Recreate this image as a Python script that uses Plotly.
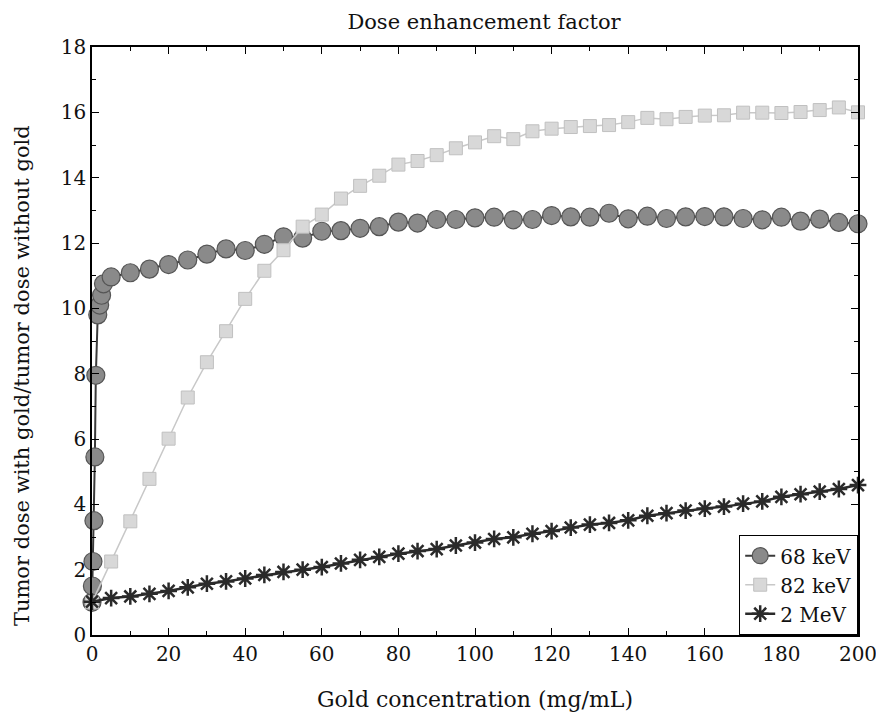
import plotly.graph_objects as go

# ---- data ----
x_68 = [0, 0.1, 0.25, 0.5, 0.75, 1, 1.5, 2, 2.5, 3,
        5, 10, 15, 20, 25, 30, 35, 40, 45, 50, 55, 60, 65, 70, 75, 80, 85, 90, 95,
        100, 105, 110, 115, 120, 125, 130, 135, 140, 145, 150, 155, 160, 165, 170,
        175, 180, 185, 190, 195, 200]
y_68 = [1.0, 1.5, 2.25, 3.5, 5.45, 7.95, 9.8, 10.1, 10.4, 10.75,
        10.96, 11.09, 11.2, 11.34, 11.48, 11.66, 11.82, 11.77, 11.96, 12.19, 12.15,
        12.36, 12.38, 12.45, 12.5, 12.64, 12.61, 12.72, 12.72,
        12.77, 12.79, 12.71, 12.72, 12.84, 12.8, 12.79, 12.91, 12.74, 12.82, 12.75,
        12.8, 12.81, 12.8, 12.75, 12.71, 12.79, 12.67, 12.73, 12.63, 12.59]

x_82 = [0, 5, 10, 15, 20, 25, 30, 35, 40, 45, 50, 55, 60, 65, 70, 75, 80, 85, 90, 95,
        100, 105, 110, 115, 120, 125, 130, 135, 140, 145, 150, 155, 160, 165, 170,
        175, 180, 185, 190, 195, 200]
y_82 = [1.0, 2.25, 3.48, 4.78, 6.01, 7.27, 8.35, 9.3, 10.29, 11.15, 11.78, 12.5,
        12.87, 13.36, 13.75, 14.06, 14.4, 14.51, 14.69, 14.9,
        15.08, 15.27, 15.18, 15.42, 15.5, 15.55, 15.58, 15.61, 15.7, 15.83, 15.79,
        15.86, 15.9, 15.91, 15.99, 15.99, 15.98, 16.01, 16.07, 16.15, 16.0]

x_2mev = [0, 5, 10, 15, 20, 25, 30, 35, 40, 45, 50, 55, 60, 65, 70, 75, 80, 85, 90, 95,
          100, 105, 110, 115, 120, 125, 130, 135, 140, 145, 150, 155, 160, 165, 170,
          175, 180, 185, 190, 195, 200]
y_2mev = [1.02, 1.13, 1.18, 1.26, 1.35, 1.46, 1.57, 1.64, 1.73, 1.84, 1.93, 2.0,
          2.08, 2.19, 2.3, 2.39, 2.49, 2.57, 2.63, 2.74,
          2.83, 2.94, 2.99, 3.1, 3.18, 3.29, 3.38, 3.43, 3.51, 3.65, 3.73, 3.81,
          3.87, 3.93, 4.02, 4.09, 4.23, 4.31, 4.39, 4.47, 4.59]

x_ticks = [0, 20, 40, 60, 80, 100, 120, 140, 160, 180, 200]
y_ticks = [0, 2, 4, 6, 8, 10, 12, 14, 16, 18]

FONT = "DejaVu Serif"
FS = 20
W, H = 876, 718
TXT = "#111"

fig = go.Figure()
fig.add_trace(go.Scatter(
    x=x_68, y=y_68, name="68 keV", mode="lines+markers", cliponaxis=False,
    line=dict(color="#3a3a3a", width=2),
    marker=dict(symbol="circle", size=18, color="#8a8a8a",
                line=dict(color="#555555", width=1.2))))
fig.add_trace(go.Scatter(
    x=x_82, y=y_82, name="82 keV", mode="lines+markers", cliponaxis=False,
    line=dict(color="#c8c8c8", width=1.5),
    marker=dict(symbol="square", size=13, color="#d8d8d8",
                line=dict(color="#c0c0c0", width=1))))
fig.add_trace(go.Scatter(
    x=x_2mev, y=y_2mev, name="2 MeV", mode="lines+markers", cliponaxis=False,
    line=dict(color="#2a2a2a", width=2.5),
    marker=dict(symbol="asterisk-open", size=14, color="#2a2a2a",
                line=dict(color="#2a2a2a", width=2.5))))

axis_common = dict(
    showgrid=False, zeroline=False, showline=True, linecolor="black", linewidth=1.5,
    mirror="ticks", ticks="inside", ticklen=7, tickwidth=1.2, tickcolor="black",
    tickfont=dict(family=FONT, size=FS, color=TXT), automargin=False,
    ticklabeloverflow="allow",
)
fig.update_xaxes(range=[0, 200], tickvals=x_ticks, ticktext=[str(v) for v in x_ticks],
                 minor=dict(ticks="inside", dtick=10, ticklen=4, tickcolor="black"),
                 title=dict(text="Gold concentration (mg/mL)",
                            font=dict(family=FONT, size=22, color=TXT), standoff=27),
                 **axis_common)
fig.update_yaxes(range=[0, 18], tickvals=y_ticks, ticktext=[str(v) for v in y_ticks],
                 minor=dict(ticks="inside", dtick=1, ticklen=4, tickcolor="black"),
                 **axis_common)

fig.add_annotation(
    text="Tumor dose with gold/tumor dose without gold", textangle=-90,
    xref="paper", yref="paper", x=-0.0914, y=0.442, xanchor="center", yanchor="middle",
    showarrow=False, font=dict(family=FONT, size=21, color=TXT))

fig.update_layout(
    width=W, height=H,
    margin=dict(l=92, r=18, t=47, b=83),
    paper_bgcolor="white", plot_bgcolor="white",
    title=dict(text="Dose enhancement factor", x=484 / W, xanchor="center",
               y=1 - 22 / H, yanchor="middle",
               font=dict(family=FONT, size=21, color=TXT)),
    legend=dict(x=1, y=0, xanchor="right", yanchor="bottom",
                bordercolor="black", borderwidth=1.2, bgcolor="white",
                font=dict(family=FONT, size=FS, color=TXT),
                tracegroupgap=0, itemwidth=30),
    showlegend=True,
)

fig.write_html("out.html", config={"displayModeBar": False},
               post_script="document.body.style.margin='0';document.body.style.overflow='hidden';")
